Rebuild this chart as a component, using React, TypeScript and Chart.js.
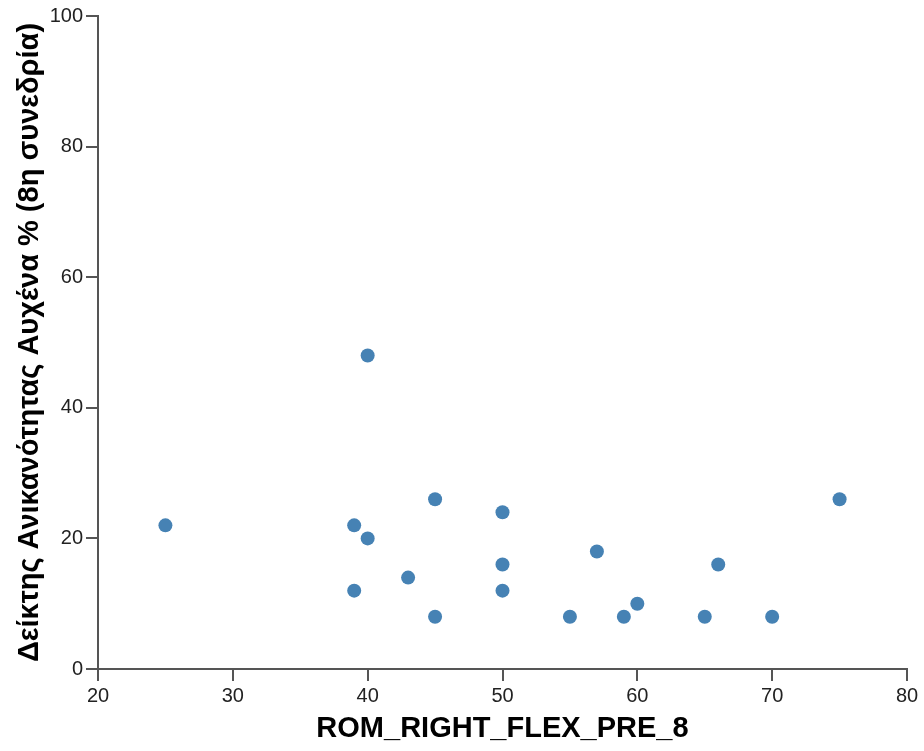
import React, { useEffect, useRef } from "react";
import { Chart, registerables } from "chart.js";

Chart.register(...registerables);

const xValues = [25, 39, 39, 40, 40, 43, 45, 45, 50, 50, 50, 55, 57, 59, 60, 65, 66, 70, 75];
const yValues = [22, 22, 12, 48, 20, 14, 26, 8, 24, 16, 12, 8, 18, 8, 10, 8, 16, 8, 26];
const xTitle = "ROM_RIGHT_FLEX_PRE_8";
const yTitle = "Δείκτης Ανικανότητας Αυχένα % (8η συνεδρία)";

const FONT = "'Liberation Sans', Arial, sans-serif";

export default function App() {
  const ref = useRef<HTMLCanvasElement>(null);
  useEffect(() => {
    document.body.style.margin = "0";
    const points = xValues.map((x, i) => ({ x, y: yValues[i] }));
    const chart = new Chart(ref.current!, {
      type: "scatter",
      data: {
        datasets: [
          {
            data: points,
            backgroundColor: "#4682B4",
            borderColor: "#4682B4",
            borderWidth: 0,
            pointRadius: 7,
          },
        ],
      },
      options: {
        animation: false,
        responsive: false,
        maintainAspectRatio: false,
        layout: { padding: { top: 16, right: 17, bottom: 0, left: 0 } },
        plugins: { legend: { display: false }, tooltip: { enabled: false } },
        scales: {
          x: {
            type: "linear",
            min: 20,
            max: 80,
            afterFit: (s: any) => {
              s.height = 82;
            },
            ticks: {
              stepSize: 10,
              color: "#222",
              padding: 3,
              font: { family: FONT, size: 20 },
            },
            grid: {
              drawOnChartArea: false,
              drawTicks: true,
              tickLength: 12,
              color: "#555",
              lineWidth: 2,
            },
            border: { display: true, color: "#555", width: 2 },
            title: {
              display: true,
              text: xTitle,
              color: "#000",
              font: { family: FONT, size: 29, weight: "bold" },
              padding: { top: 0, bottom: 5 },
            },
          },
          y: {
            type: "linear",
            min: 0,
            max: 100,
            afterFit: (s: any) => {
              s.width = 98;
            },
            ticks: {
              stepSize: 20,
              color: "#222",
              padding: 3,
              font: { family: FONT, size: 20 },
            },
            grid: {
              drawOnChartArea: false,
              drawTicks: true,
              tickLength: 12,
              color: "#555",
              lineWidth: 2,
            },
            border: { display: true, color: "#555", width: 2 },
            title: {
              display: true,
              text: yTitle,
              color: "#000",
              font: { family: FONT, size: 29, weight: "bold" },
              padding: { top: 13, bottom: 0 },
            },
          },
        },
      },
    });
    return () => chart.destroy();
  }, []);
  return (
    <div style={{ width: 924, height: 751, background: "#fff" }}>
      <canvas ref={ref} width={924} height={751} style={{ display: "block" }} />
    </div>
  );
}
